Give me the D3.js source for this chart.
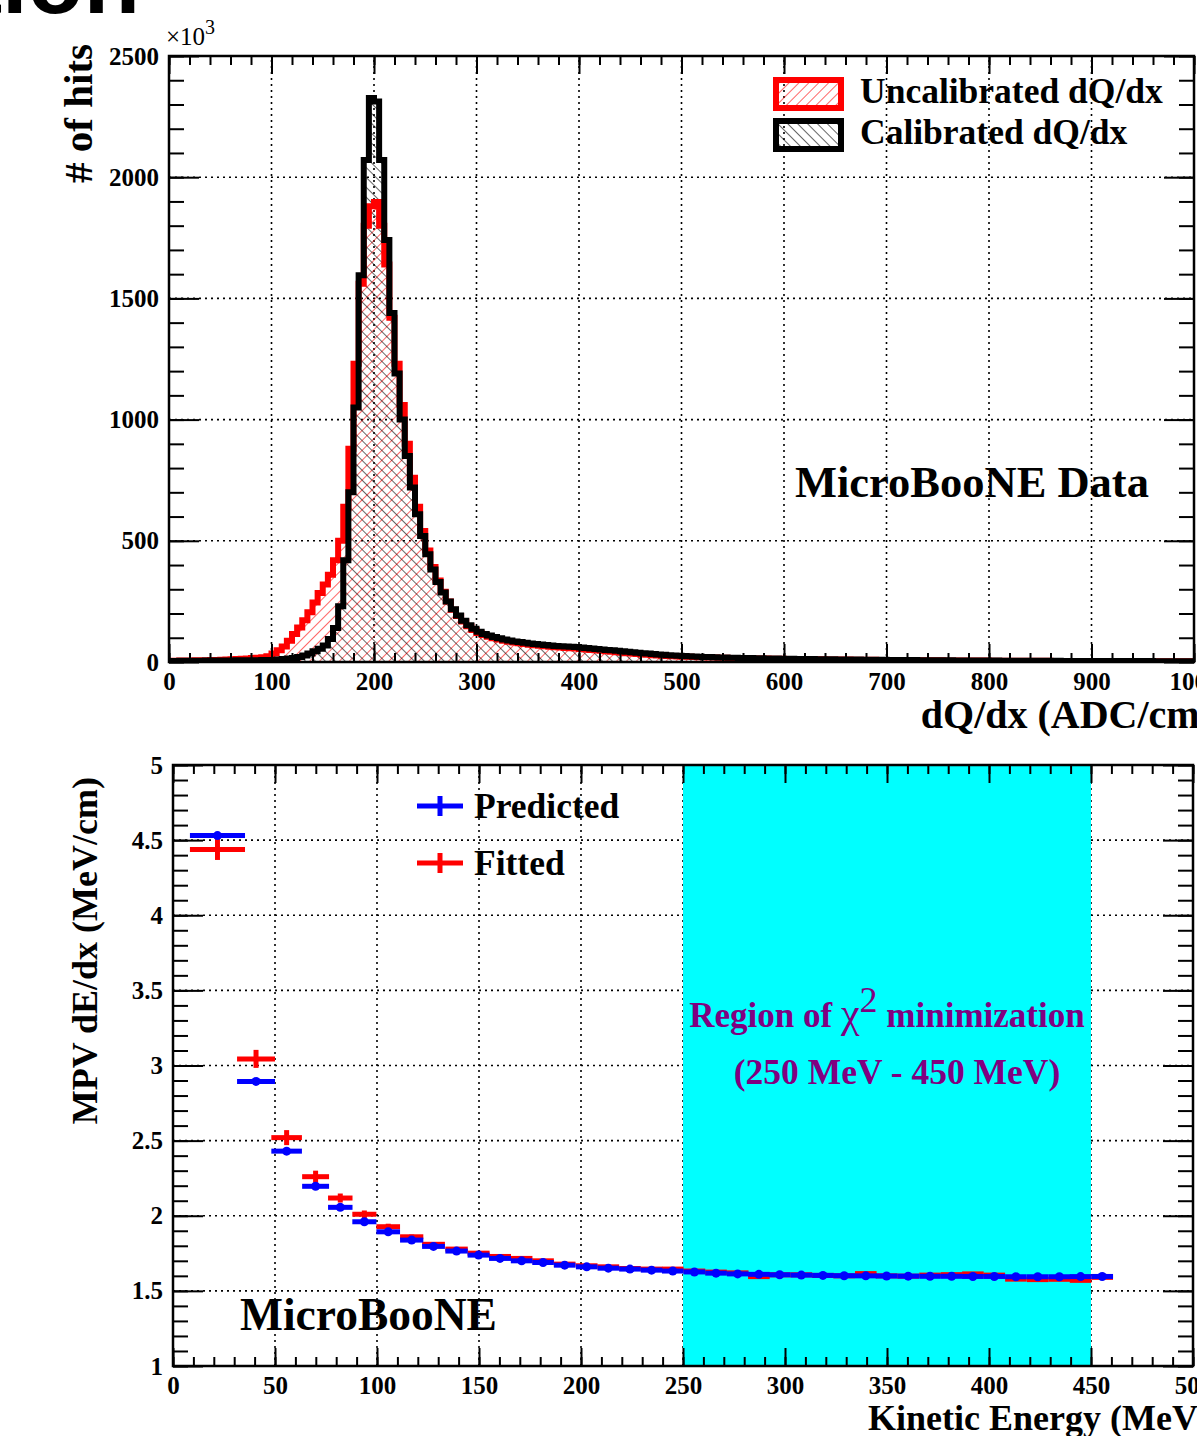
<!DOCTYPE html>
<html>
<head>
<meta charset="utf-8">
<script src="https://cdn.jsdelivr.net/npm/d3@7"></script>
<style>
  body { margin: 0; background: #fff; }
  text { font-family: "Liberation Serif", "DejaVu Serif", serif; font-weight: bold; fill: #000; }
</style>
</head>
<body>
<svg id="chart" width="1197" height="1436"></svg>
<script>
// ---- top panel: dQ/dx histograms, 5 ADC/cm bins from 0 to 1000, in units of 10^3 hits ----
var binWidth = 5;
var calibrated = [
  4, 4, 5, 5, 5, 5, 5, 6, 6, 6,
  6, 6, 6, 7, 7, 7, 7, 7, 8, 8,
  8, 10, 12, 14, 17, 21, 27, 35, 44, 55,
  68, 95, 140, 230, 420, 700, 1050, 1596, 2071, 2327,
  2312, 2071, 1741, 1440, 1190, 1000, 850, 720, 610, 520,
  445, 382, 330, 287, 250, 218, 192, 170, 152, 137,
  125, 116, 109, 103, 98, 93, 89, 85, 82, 79,
  76, 74, 72, 70, 68, 66, 65, 64, 63, 62,
  60, 58, 56, 54, 52, 50, 48, 46, 44, 42,
  40, 38, 36, 35, 33, 31, 30, 28, 27, 26,
  25, 24, 23, 22, 21, 20.5, 20, 19, 18.5, 18,
  17.5, 17, 16.5, 16, 15.5, 15, 14.5, 14, 14, 13.5,
  13, 13, 12.5, 12.5, 12, 12, 11.5, 11.5, 11, 11,
  10.5, 10.5, 10, 10, 10, 9.5, 9.5, 9, 9, 9,
  8.5, 8.5, 8.5, 8, 8, 8, 7.5, 7.5, 7.5, 7,
  7, 7, 7, 6.5, 6.5, 6.5, 6.5, 6, 6, 6,
  6, 6, 5.5, 5.5, 5.5, 5.5, 5.5, 5, 5, 5,
  5, 5, 5, 5, 4.5, 4.5, 4.5, 4.5, 4.5, 4.5,
  4.5, 4, 4, 4, 4, 4, 4, 4, 4, 4,
  4, 4, 3.5, 3.5, 3.5, 3.5, 3.5, 3.5, 3.5, 3.5
];
var uncalibrated = [
  5, 5, 6, 6, 6, 7, 7, 7, 8, 8,
  9, 10, 11, 12, 13, 14, 16, 18, 20, 24,
  35, 48, 64, 88, 115, 142, 172, 205, 245, 285,
  320, 360, 420, 500, 640, 880, 1230, 1560, 1800, 1880,
  1898, 1800, 1640, 1420, 1230, 1060, 900, 760, 640, 540,
  460, 392, 336, 290, 250, 216, 190, 167, 148, 132,
  120, 111, 104, 98, 93, 88, 84, 80, 77, 74,
  71, 69, 67, 65, 63, 61, 60, 58, 57, 56,
  54, 52, 50, 48, 46, 44, 42, 40, 38, 36,
  35, 33, 31, 30, 28, 27, 26, 25, 24, 23,
  22, 21.5, 21, 20, 19.5, 19, 18.5, 18, 17.5, 17,
  16.5, 16, 15.5, 15, 14.5, 14, 14, 13.5, 13, 13,
  12.5, 12.5, 12, 12, 11.5, 11.5, 11, 11, 10.5, 10.5,
  10, 10, 10, 9.5, 9.5, 9, 9, 9, 8.5, 8.5,
  8.5, 8, 8, 8, 7.5, 7.5, 7.5, 7, 7, 7,
  7, 6.5, 6.5, 6.5, 6.5, 6, 6, 6, 6, 6,
  5.5, 5.5, 5.5, 5.5, 5.5, 5, 5, 5, 5, 5,
  5, 5, 4.5, 4.5, 4.5, 4.5, 4.5, 4.5, 4.5, 4,
  4, 4, 4, 4, 4, 4, 4, 4, 4, 4,
  3.5, 3.5, 3.5, 3.5, 3.5, 3.5, 3.5, 3.5, 3.5, 3.5
];
var histLabels = ['Uncalibrated dQ/dx', 'Calibrated dQ/dx'];

// ---- bottom panel: MPV dE/dx vs kinetic energy ----
var keCenter = [21.8, 40.7, 55.7, 69.9, 82, 93.8, 105.5, 117, 127.7, 139,
  149.8, 160.3, 170.9, 181.4, 192, 202.8, 213.4, 224, 234.6, 245,
  255.6, 266.2, 276.8, 287.2, 297.4, 308, 318.6, 329, 339.6, 349.8,
  360.4, 371.1, 381.7, 392.1, 402.6, 413.2, 423.9, 434.5, 444.9, 455.5];
var keHalfWidth = [13.5, 9.3, 7.5, 6.6, 6.0, 5.9, 5.8, 5.7, 5.6, 5.5,
  5.4, 5.4, 5.3, 5.3, 5.3, 5.3, 5.3, 5.3, 5.3, 5.3,
  5.3, 5.3, 5.3, 5.3, 5.3, 5.3, 5.3, 5.3, 5.3, 5.3,
  5.3, 5.3, 5.3, 5.3, 5.3, 5.3, 5.3, 5.3, 5.3, 5.3];
var predicted = [4.53, 2.894, 2.43, 2.196, 2.056, 1.96, 1.893, 1.838, 1.796, 1.765,
  1.738, 1.716, 1.70, 1.689, 1.671, 1.660, 1.651, 1.645, 1.638, 1.632,
  1.626, 1.618, 1.613, 1.61, 1.607, 1.605, 1.603, 1.601, 1.60, 1.599,
  1.598, 1.597, 1.597, 1.596, 1.596, 1.594, 1.594, 1.594, 1.595, 1.596];
var fitted = [4.438, 3.044, 2.52, 2.26, 2.118, 2.01, 1.927, 1.86, 1.81, 1.778,
  1.751, 1.729, 1.716, 1.70, 1.678, 1.667, 1.66, 1.649, 1.645, 1.645,
  1.632, 1.625, 1.62, 1.595, 1.607, 1.607, 1.603, 1.60, 1.615, 1.60,
  1.598, 1.605, 1.608, 1.613, 1.605, 1.578, 1.575, 1.577, 1.57, 1.59];
var fittedErr = [0.07, 0.06, 0.05, 0.04, 0.03, 0.025, 0.02, 0.015, 0.012, 0.01,
  0.01, 0.01, 0.01, 0.01, 0.01, 0.01, 0.01, 0.01, 0.01, 0.01,
  0.01, 0.01, 0.01, 0.01, 0.01, 0.01, 0.01, 0.01, 0.01, 0.01,
  0.01, 0.01, 0.01, 0.01, 0.01, 0.01, 0.01, 0.01, 0.01, 0.01];
var fitRegion = [250, 450];
var seriesLabels = ['Predicted', 'Fitted'];

var svg = d3.select('#chart');
svg.append('rect').attr('width', 1197).attr('height', 1436).attr('fill', '#fff');

// hatch patterns (ROOT 3004 / 3005 style)
var defs = svg.append('defs');
function hatch(id, color, angle) {
    var p = defs.append('pattern').attr('id', id)
        .attr('patternUnits', 'userSpaceOnUse')
        .attr('width', 7).attr('height', 7)
        .attr('patternTransform', 'rotate(' + angle + ')');
    p.append('line').attr('x1', 0).attr('y1', 0).attr('x2', 0).attr('y2', 7)
        .attr('stroke', color).attr('stroke-width', 1.2);
}
hatch('hatchRed', '#ff0000', 45);
hatch('hatchBlack', '#000', -45);

// partially visible slide title at the very top
svg.append('text').attr('x', 140).attr('y', 13).attr('text-anchor', 'end')
    .style('font-family', 'Liberation Sans, Arial, sans-serif')
    .style('font-size', '92px').text('Calibration');

function gridLines(g, x, y, xt, yt) {
    g.selectAll('.gx').data(xt).join('line')
        .attr('x1', d => x(d)).attr('x2', d => x(d))
        .attr('y1', y.range()[0]).attr('y2', y.range()[1]);
    g.selectAll('.gy').data(yt).join('line').attr('class', 'gy')
        .attr('y1', d => y(d)).attr('y2', d => y(d))
        .attr('x1', x.range()[0]).attr('x2', x.range()[1]);
    g.selectAll('line').attr('stroke', '#000').attr('stroke-width', 1.6)
        .attr('stroke-dasharray', '2,4');
}

function frameAxes(g, x, y, opt) {
    var x0 = x.range()[0], x1 = x.range()[1], y0 = y.range()[0], y1 = y.range()[1];
    var fmtX = opt.fmtX, fmtY = opt.fmtY;
    // bottom
    g.append('g').attr('transform', 'translate(0,' + y0 + ')')
        .call(d3.axisBottom(x).tickValues(opt.xMajor).tickSize(-opt.xMaj).tickPadding(10).tickFormat(fmtX))
        .call(a => a.select('.domain').remove())
        .selectAll('text').style('font-size', opt.tickFont + 'px')
        .style('font-family', '"Liberation Serif", serif').style('font-weight', 'bold');
    g.append('g').attr('transform', 'translate(0,' + y0 + ')')
        .call(d3.axisBottom(x).tickValues(opt.xMinor).tickSize(-opt.xMaj / 2).tickFormat(''))
        .call(a => a.select('.domain').remove());
    // top
    g.append('g').attr('transform', 'translate(0,' + y1 + ')')
        .call(d3.axisTop(x).tickValues(opt.xMajor).tickSize(-opt.xMaj).tickFormat(''))
        .call(a => a.select('.domain').remove());
    g.append('g').attr('transform', 'translate(0,' + y1 + ')')
        .call(d3.axisTop(x).tickValues(opt.xMinor).tickSize(-opt.xMaj / 2).tickFormat(''))
        .call(a => a.select('.domain').remove());
    // left
    g.append('g').attr('transform', 'translate(' + x0 + ',0)')
        .call(d3.axisLeft(y).tickValues(opt.yMajor).tickSize(-opt.yMaj).tickPadding(10).tickFormat(fmtY))
        .call(a => a.select('.domain').remove())
        .selectAll('text').style('font-size', opt.tickFont + 'px')
        .style('font-family', '"Liberation Serif", serif').style('font-weight', 'bold');
    g.append('g').attr('transform', 'translate(' + x0 + ',0)')
        .call(d3.axisLeft(y).tickValues(opt.yMinor).tickSize(-opt.yMaj / 2).tickFormat(''))
        .call(a => a.select('.domain').remove());
    // right
    g.append('g').attr('transform', 'translate(' + x1 + ',0)')
        .call(d3.axisRight(y).tickValues(opt.yMajor).tickSize(-opt.yMaj).tickFormat(''))
        .call(a => a.select('.domain').remove());
    g.append('g').attr('transform', 'translate(' + x1 + ',0)')
        .call(d3.axisRight(y).tickValues(opt.yMinor).tickSize(-opt.yMaj / 2).tickFormat(''))
        .call(a => a.select('.domain').remove());
    g.selectAll('.tick line').attr('stroke', '#000').attr('stroke-width', 2);
    g.append('rect').attr('x', x0).attr('y', y1).attr('width', x1 - x0).attr('height', y0 - y1)
        .attr('fill', 'none').attr('stroke', '#000').attr('stroke-width', 2.5);
}

// ================= TOP PANEL =================
var xTop = d3.scaleLinear().domain([0, 1000]).range([169, 1194]);
var yTop = d3.scaleLinear().domain([0, 2500]).range([662, 56]);
var panelTop = svg.append('g');
gridLines(panelTop.append('g'), xTop, yTop, xTop.ticks(10), yTop.ticks(5));

var clipTop = defs.append('clipPath').attr('id', 'clipTop');
clipTop.append('rect').attr('x', 169).attr('y', 56).attr('width', 1025).attr('height', 606);

function stepPts(vals) {
    var pts = [];
    vals.forEach(function(v, i) { pts.push([i * binWidth, v]); pts.push([(i + 1) * binWidth, v]); });
    return pts;
}
var stepLine = d3.line().x(d => xTop(d[0])).y(d => yTop(d[1]));
var stepArea = d3.area().x(d => xTop(d[0])).y0(yTop(0)).y1(d => yTop(d[1]));
var hg = panelTop.append('g').attr('clip-path', 'url(#clipTop)');
[[uncalibrated, 'hatchRed'], [calibrated, 'hatchBlack']].forEach(function(s) {
    hg.append('path').attr('d', stepArea(stepPts(s[0]))).attr('fill', 'url(#' + s[1] + ')');
});
[[uncalibrated, '#ff0000'], [calibrated, '#000']].forEach(function(s) {
    hg.append('path').attr('d', stepLine(stepPts(s[0]))).attr('fill', 'none')
        .attr('stroke', s[1]).attr('stroke-width', 6).attr('stroke-linejoin', 'miter');
});

frameAxes(panelTop, xTop, yTop, {
    xMajor: xTop.ticks(10), xMinor: xTop.ticks(50), yMajor: yTop.ticks(5), yMinor: yTop.ticks(25),
    xMaj: 18, yMaj: 30, tickFont: 25, fmtX: d3.format('d'), fmtY: d3.format('d')
});

// x10^3 multiplier
var mult = panelTop.append('text').attr('x', 166).attr('y', 45)
    .style('font-weight', 'normal').style('font-size', '25px');
mult.append('tspan').text('\u00d710');
mult.append('tspan').attr('dy', -11).style('font-size', '20px').text('3');

panelTop.append('text').attr('transform', 'translate(92,44) rotate(-90)').attr('text-anchor', 'end')
    .style('font-size', '41px').text('# of hits');
panelTop.append('text').attr('x', 1213).attr('y', 728).attr('text-anchor', 'end')
    .style('font-size', '40px').text('dQ/dx (ADC/cm)');
panelTop.append('text').attr('x', 795).attr('y', 497).style('font-size', '44.5px').text('MicroBooNE Data');

// legend
var legTop = panelTop.append('g');
[['hatchRed', '#ff0000', 80], ['hatchBlack', '#000', 121]].forEach(function(l, i) {
    legTop.append('rect').attr('x', 776).attr('y', l[2]).attr('width', 65).attr('height', 28)
        .attr('fill', 'url(#' + l[0] + ')').attr('stroke', l[1]).attr('stroke-width', 6);
    legTop.append('text').attr('x', 860).attr('y', l[2] + 23).style('font-size', '35.5px').text(histLabels[i]);
});

// ================= BOTTOM PANEL =================
var xBot = d3.scaleLinear().domain([0, 500]).range([173, 1193]);
var yBot = d3.scaleLinear().domain([1, 5]).range([1366, 765]);
var panelBot = svg.append('g');
gridLines(panelBot.append('g'), xBot, yBot, xBot.ticks(10), yBot.ticks(8));

panelBot.append('rect').attr('x', xBot(fitRegion[0])).attr('y', yBot(5))
    .attr('width', xBot(fitRegion[1]) - xBot(fitRegion[0])).attr('height', yBot(1) - yBot(5))
    .attr('fill', '#00ffff');

frameAxes(panelBot, xBot, yBot, {
    xMajor: xBot.ticks(10), xMinor: xBot.ticks(50), yMajor: yBot.ticks(8), yMinor: yBot.ticks(40),
    xMaj: 18, yMaj: 30, tickFont: 25, fmtX: d3.format('d'), fmtY: d => d3.format('')(d)
});

var r1 = panelBot.append('text').attr('x', 887).attr('y', 1027).attr('text-anchor', 'middle')
    .style('font-size', '35px').style('fill', '#800080');
r1.append('tspan').text('Region of ');
r1.append('tspan').style('font-weight', 'normal').style('font-size', '42px').text('\u03c7');
r1.append('tspan').attr('dy', -15).style('font-size', '36px').style('font-weight', 'normal').text('2');
r1.append('tspan').attr('dy', 15).text(' minimization');
panelBot.append('text').attr('x', 897).attr('y', 1084).attr('text-anchor', 'middle')
    .style('font-size', '35.5px').style('fill', '#800080').text('(250 MeV - 450 MeV)');

// data points
var ptsG = panelBot.append('g');
function errSeries(vals, errs, color, dot) {
    var g = ptsG.append('g');
    keCenter.forEach(function(c, i) {
        g.append('line').attr('x1', xBot(c - keHalfWidth[i])).attr('x2', xBot(c + keHalfWidth[i]))
            .attr('y1', yBot(vals[i])).attr('y2', yBot(vals[i]))
            .attr('stroke', color).attr('stroke-width', 5);
        if (errs) {
            g.append('line').attr('x1', xBot(c)).attr('x2', xBot(c))
                .attr('y1', yBot(vals[i] - errs[i])).attr('y2', yBot(vals[i] + errs[i]))
                .attr('stroke', color).attr('stroke-width', 5);
        }
        if (dot) {
            g.append('circle').attr('cx', xBot(c)).attr('cy', yBot(vals[i])).attr('r', 4.5).attr('fill', color);
        }
    });
}
errSeries(fitted, fittedErr, '#ff0000', false);
errSeries(predicted, null, '#0000ff', true);

// legend
[['#0000ff', 806], ['#ff0000', 863]].forEach(function(l, i) {
    panelBot.append('line').attr('x1', 417).attr('x2', 463).attr('y1', l[1]).attr('y2', l[1])
        .attr('stroke', l[0]).attr('stroke-width', 5);
    panelBot.append('line').attr('x1', 440).attr('x2', 440).attr('y1', l[1] - 10).attr('y2', l[1] + 10)
        .attr('stroke', l[0]).attr('stroke-width', 5);
    panelBot.append('text').attr('x', 474).attr('y', l[1] + 12).style('font-size', '35.5px').text(seriesLabels[i]);
});

panelBot.append('text').attr('x', 240).attr('y', 1330).style('font-size', '45.5px').text('MicroBooNE');
panelBot.append('text').attr('transform', 'translate(97,777) rotate(-90)').attr('text-anchor', 'end')
    .style('font-size', '36px').text('MPV dE/dx (MeV/cm)');
panelBot.append('text').attr('x', 1210).attr('y', 1430).attr('text-anchor', 'end')
    .style('font-size', '36px').text('Kinetic Energy (MeV)');
</script>
</body>
</html>
